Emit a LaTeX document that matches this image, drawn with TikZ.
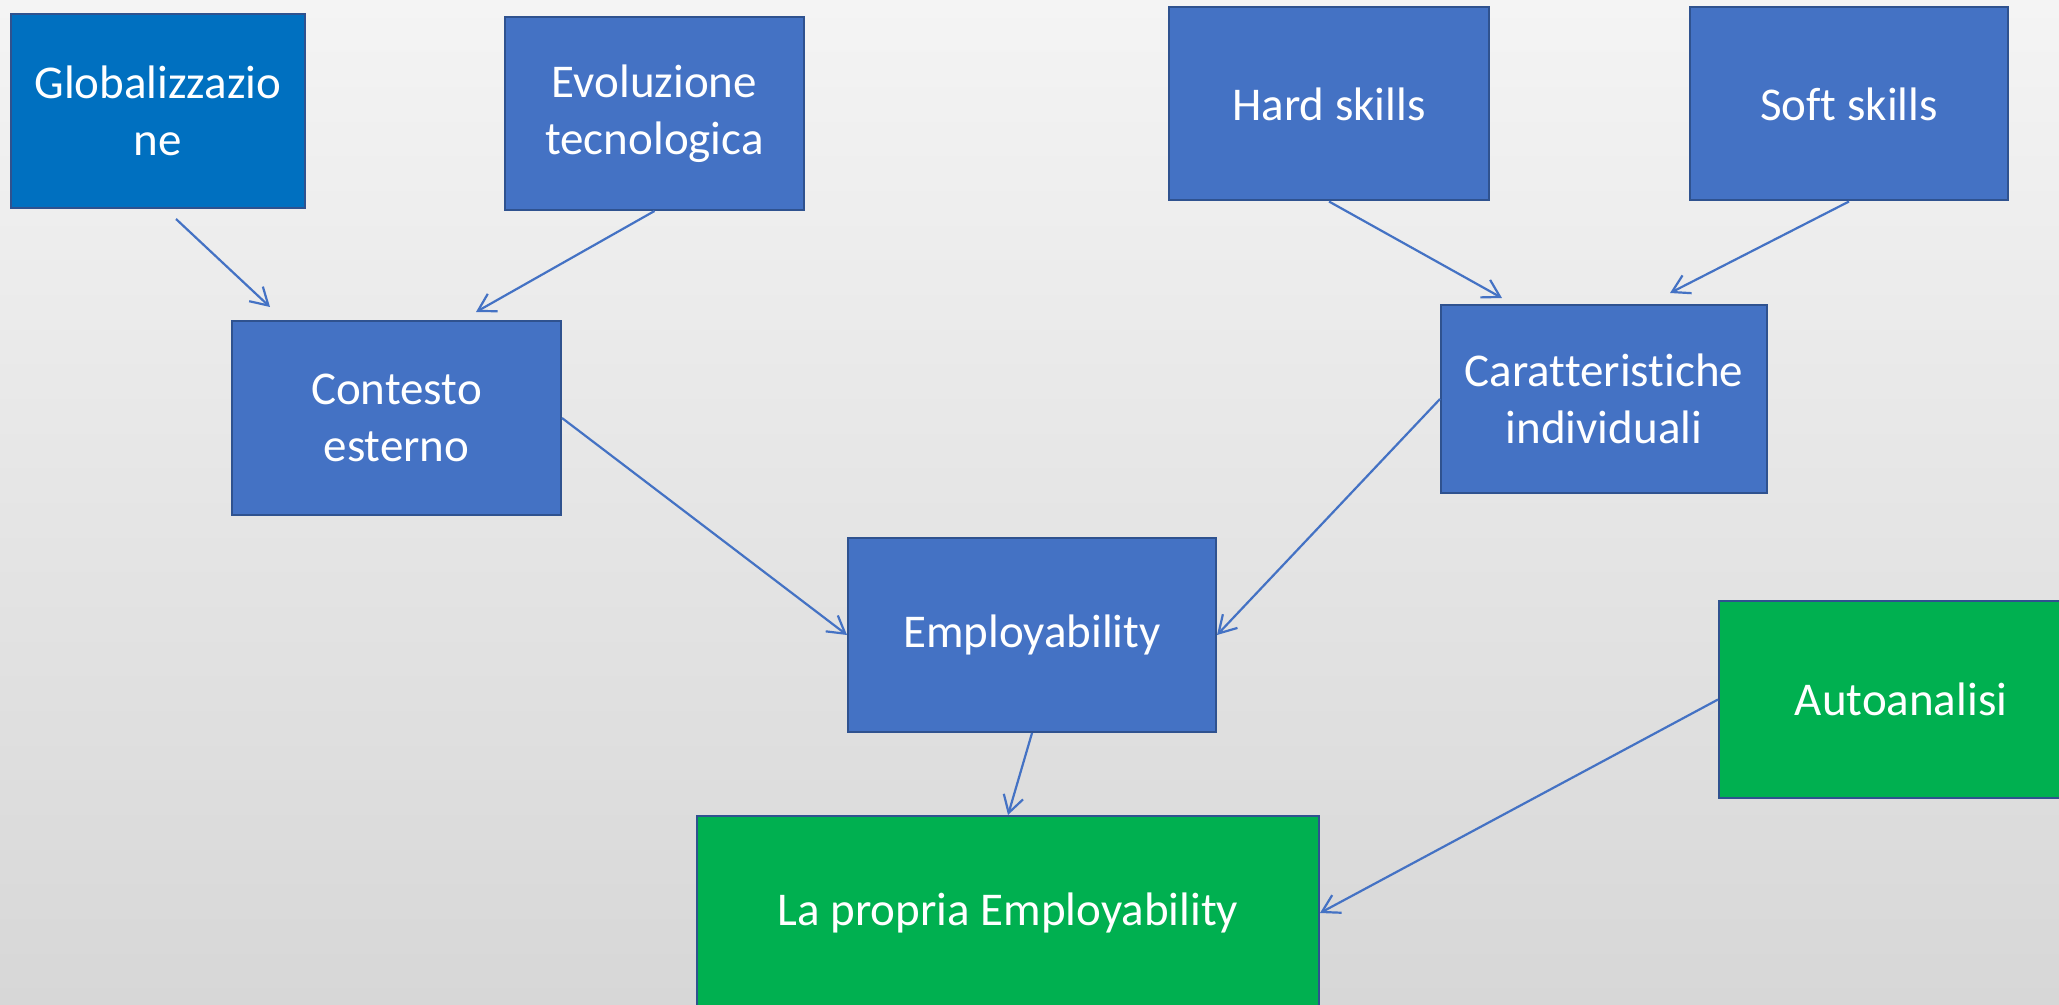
\documentclass[tikz,border=0pt]{standalone}
\usepackage{fontspec}
\setmainfont{Carlito}[Ligatures=NoCommon]
\usetikzlibrary{arrows.meta}
\definecolor{accblue}{HTML}{4472C4}
\definecolor{darkblue}{HTML}{2F528F}
\definecolor{globblue}{HTML}{0070C0}
\definecolor{accgreen}{HTML}{00B050}
\definecolor{bgtop}{HTML}{F4F4F4}
\definecolor{bgbot}{HTML}{D7D7D7}
\tikzset{
  boxbase/.style={draw=darkblue, line width=1pt, text=white, align=center, inner sep=0pt,
    font=\fontsize{23.5}{28.7}\selectfont},
  bluebox/.style={boxbase, fill=accblue},
  globbox/.style={boxbase, fill=globblue},
  greenbox/.style={boxbase, fill=accgreen},
  conn/.style={draw=accblue, line width=1.1pt, -{Straight Barb[length=8.5pt,width=10pt]}}
}
\begin{document}
\begin{tikzpicture}[x=0.5pt,y=-0.5pt]
\useasboundingbox (0,0) rectangle (2059,1005);
\clip (0,0) rectangle (2059,1005);
\shade[top color=bgtop, bottom color=bgbot] (0,0) rectangle (2059,1005);

\node[globbox, minimum width=147pt, minimum height=97pt] (glob) at (158,111) {Globalizzazio\\ne};
\node[bluebox, minimum width=149.5pt, minimum height=96.5pt] (evol) at (654.5,113.5) {Evoluzione\\tecnologica};
\node[bluebox, minimum width=164.5pt, minimum height=97pt] (cont) at (396.5,418) {Contesto\\esterno};
\node[bluebox, minimum width=160pt, minimum height=96.5pt] (hard) at (1329,104) {Hard skills};
\node[bluebox, minimum width=159pt, minimum height=96.5pt] (soft) at (1849,104) {Soft skills};
\node[bluebox, minimum width=163pt, minimum height=94pt] (car) at (1604,399) {Caratteristiche\\individuali};
\node[bluebox, minimum width=184pt, minimum height=97pt] (emp) at (1032,635) {Employability};
\node[greenbox, minimum width=311pt, minimum height=97pt] (lapr) at (1008,913) {La propria Employability};
\node[greenbox, minimum width=182pt, minimum height=98.5pt] (auto) at (1901,699.5) {Autoanalisi};

\coordinate (g1) at (176,219);
\coordinate (g2) at (270,307);
\coordinate (e2) at (476,312);
\coordinate (h2) at (1502,298);
\coordinate (s2) at (1670,293);

\draw[conn] (g1) -- (g2);
\draw[conn] (evol.south) -- (e2);
\draw[conn] (cont.east) -- (emp.west);
\draw[conn] (hard.south) -- (h2);
\draw[conn] (soft.south) -- (s2);
\draw[conn] (car.west) -- (emp.east);
\draw[conn] (emp.south) -- (lapr.north);
\draw[conn] (auto.west) -- (lapr.east);
\end{tikzpicture}
\end{document}
